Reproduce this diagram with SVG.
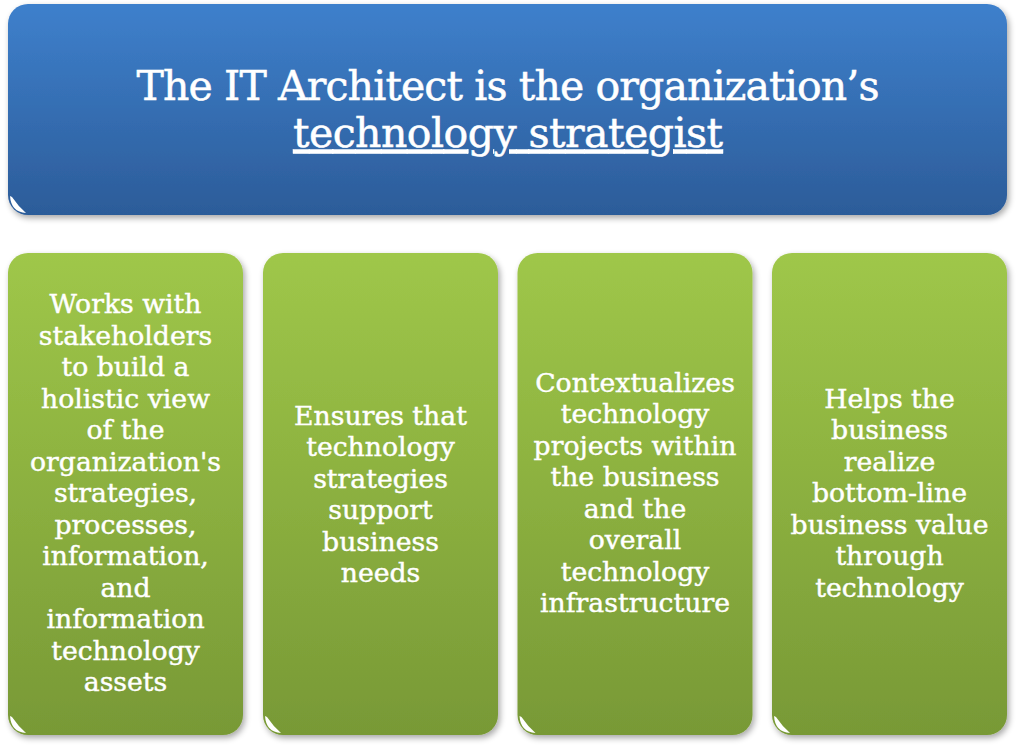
<svg xmlns="http://www.w3.org/2000/svg" width="1024" height="746" viewBox="0 0 1024 746">
  <defs>
    <linearGradient id="blueFill" x1="0" y1="0" x2="0" y2="1">
      <stop offset="0" stop-color="#3e80cc"/>
      <stop offset="1" stop-color="#2c5c99"/>
    </linearGradient>
    <linearGradient id="greenFill" x1="0" y1="0" x2="0" y2="1">
      <stop offset="0" stop-color="#9fc749"/>
      <stop offset="1" stop-color="#789936"/>
    </linearGradient>
    <filter id="shadow" x="-5%" y="-5%" width="110%" height="112%">
      <feGaussianBlur in="SourceAlpha" stdDeviation="3"/>
      <feOffset dx="2" dy="3" result="b"/>
      <feComponentTransfer><feFuncA type="linear" slope="0.35"/></feComponentTransfer>
      <feMerge><feMergeNode/><feMergeNode in="SourceGraphic"/></feMerge>
    </filter>
    <filter id="soft" x="-20%" y="-20%" width="140%" height="140%">
      <feGaussianBlur stdDeviation="0.7"/>
    </filter>
  </defs>
  <style>
    .title { font-family: "DejaVu Serif", "Liberation Serif", serif; font-size: 41px; fill: #ffffff; stroke: #ffffff; stroke-width: 0.5; text-anchor: middle; }
    .label { font-family: "DejaVu Serif", "Liberation Serif", serif; font-size: 26.7px; fill: #ffffff; stroke: #ffffff; stroke-width: 0.45; text-anchor: middle; }
    .hl-blue { fill: none; stroke: #7fb1ea; stroke-linecap: round; }
    .hl-green { fill: none; stroke: #cfeb84; stroke-linecap: round; }
    .corner { fill: #ffffff; stroke: none; }
  </style>

  <rect width="1024" height="746" fill="#ffffff"/>

  <!-- headline box -->
  <g id="headline">
    <rect x="8" y="4" width="999" height="211" rx="20" fill="url(#blueFill)" filter="url(#shadow)"/>
    <path class="hl-blue" d="M26 7.5 H989" stroke-width="3.5" filter="url(#soft)"/>
    <path class="hl-blue" d="M1004 24 V196" stroke-width="1.5" filter="url(#soft)"/>
    <path class="corner" d="M10 196 Q11 212 26 213 Q18 206 12 197 Z" filter="url(#soft)"/>
    <text class="title" x="508" y="100" textLength="743" lengthAdjust="spacing">The IT Architect is the organization’s</text>
    <text class="title" x="508" y="146.5" textLength="430" lengthAdjust="spacing" text-decoration="underline">technology strategist</text>
  </g>

  <!-- role cards -->
  <g id="card-stakeholders">
    <rect x="8" y="253" width="235" height="482" rx="20" fill="url(#greenFill)" filter="url(#shadow)"/>
    <path class="hl-green" d="M26 256.5 H225" stroke-width="3.5" filter="url(#soft)"/>
    <path class="hl-green" d="M240 272 V716" stroke-width="1.5" filter="url(#soft)"/>
    <path class="corner" d="M10 716 Q11 732 26 733 Q18 726 12 717 Z" filter="url(#soft)"/>
    <text class="label" x="125.5" y="313">Works with</text>
    <text class="label" x="125.5" y="344.5">stakeholders</text>
    <text class="label" x="125.5" y="376">to build a</text>
    <text class="label" x="125.5" y="407.5">holistic view</text>
    <text class="label" x="125.5" y="439">of the</text>
    <text class="label" x="125.5" y="470.5">organization's</text>
    <text class="label" x="125.5" y="502">strategies,</text>
    <text class="label" x="125.5" y="533.5">processes,</text>
    <text class="label" x="125.5" y="565">information,</text>
    <text class="label" x="125.5" y="596.5">and</text>
    <text class="label" x="125.5" y="628">information</text>
    <text class="label" x="125.5" y="659.5">technology</text>
    <text class="label" x="125.5" y="691">assets</text>
  </g>

  <g id="card-strategies">
    <rect x="263" y="253" width="235" height="482" rx="20" fill="url(#greenFill)" filter="url(#shadow)"/>
    <path class="hl-green" d="M281 256.5 H480" stroke-width="3.5" filter="url(#soft)"/>
    <path class="hl-green" d="M495 272 V716" stroke-width="1.5" filter="url(#soft)"/>
    <path class="corner" d="M265 716 Q266 732 281 733 Q273 726 267 717 Z" filter="url(#soft)"/>
    <text class="label" x="380.5" y="424.5">Ensures that</text>
    <text class="label" x="380.5" y="456">technology</text>
    <text class="label" x="380.5" y="487.5">strategies</text>
    <text class="label" x="380.5" y="519">support</text>
    <text class="label" x="380.5" y="550.5">business</text>
    <text class="label" x="380.5" y="582">needs</text>
  </g>

  <g id="card-context">
    <rect x="517.5" y="253" width="235" height="482" rx="20" fill="url(#greenFill)" filter="url(#shadow)"/>
    <path class="hl-green" d="M535.5 256.5 H734.5" stroke-width="3.5" filter="url(#soft)"/>
    <path class="hl-green" d="M749.5 272 V716" stroke-width="1.5" filter="url(#soft)"/>
    <path class="corner" d="M519.5 716 Q520.5 732 535.5 733 Q527.5 726 521.5 717 Z" filter="url(#soft)"/>
    <text class="label" x="635" y="391.5">Contextualizes</text>
    <text class="label" x="635" y="423">technology</text>
    <text class="label" x="635" y="454.5">projects within</text>
    <text class="label" x="635" y="486">the business</text>
    <text class="label" x="635" y="517.5">and the</text>
    <text class="label" x="635" y="549">overall</text>
    <text class="label" x="635" y="580.5">technology</text>
    <text class="label" x="635" y="612">infrastructure</text>
  </g>

  <g id="card-value">
    <rect x="772" y="253" width="235" height="482" rx="20" fill="url(#greenFill)" filter="url(#shadow)"/>
    <path class="hl-green" d="M790 256.5 H989" stroke-width="3.5" filter="url(#soft)"/>
    <path class="hl-green" d="M1004 272 V716" stroke-width="1.5" filter="url(#soft)"/>
    <path class="corner" d="M774 716 Q775 732 790 733 Q782 726 776 717 Z" filter="url(#soft)"/>
    <text class="label" x="889.5" y="407.5">Helps the</text>
    <text class="label" x="889.5" y="439">business</text>
    <text class="label" x="889.5" y="470.5">realize</text>
    <text class="label" x="889.5" y="502">bottom-line</text>
    <text class="label" x="889.5" y="533.5">business value</text>
    <text class="label" x="889.5" y="565">through</text>
    <text class="label" x="889.5" y="596.5">technology</text>
  </g>

  <!-- no connectors in this chart -->
  <g id="connectors"/>
</svg>
